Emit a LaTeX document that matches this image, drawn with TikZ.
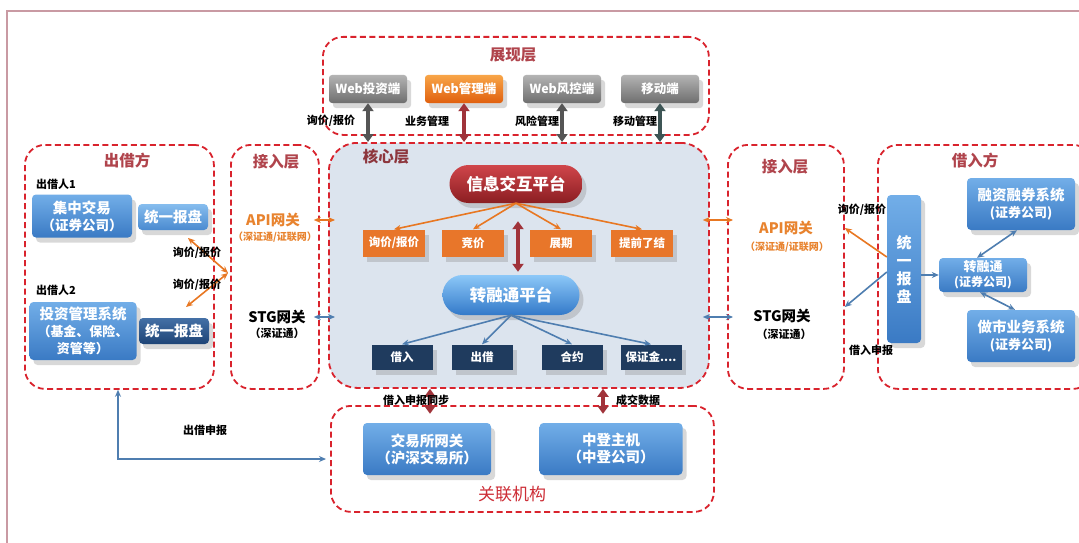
\documentclass[tikz,border=0pt]{standalone}
\usepackage{fontspec}
\setmainfont{Noto Sans CJK SC}
\usetikzlibrary{arrows.meta,shadows,calc}
\definecolor{dred}{HTML}{D9232D}
\definecolor{ttlc}{HTML}{B0444C}
\definecolor{corefill}{HTML}{DCE4EE}
\definecolor{obox}{HTML}{E8762A}
\definecolor{navy}{HTML}{1F3B5E}
\definecolor{btop}{HTML}{72AEE8}
\definecolor{bbot}{HTML}{3A7AC4}
\definecolor{ltop}{HTML}{86BDEE}
\definecolor{lbot}{HTML}{4A8AD0}
\definecolor{ntop}{HTML}{4470A6}
\definecolor{nbot}{HTML}{1E4476}
\definecolor{rtop}{HTML}{D0454A}
\definecolor{rbot}{HTML}{8B1E22}
\definecolor{ptop}{HTML}{8CC8F8}
\definecolor{pbot}{HTML}{3379C9}
\definecolor{gtop}{HTML}{B4B4B4}
\definecolor{gbot}{HTML}{6E6E6E}
\definecolor{otop}{HTML}{F8A548}
\definecolor{obot}{HTML}{E0600E}
\definecolor{oarrc}{HTML}{E87722}
\definecolor{barrc}{HTML}{4F7EB0}
\definecolor{rarrc}{HTML}{A0333A}
\definecolor{garrc}{HTML}{555555}
\definecolor{tarrc}{HTML}{3D5555}
\definecolor{framec}{HTML}{C99AA3}
\definecolor{apic}{HTML}{E8832E}
\begin{document}
\begin{tikzpicture}[x=1pt,y=-1pt,
  layer/.style={draw=dred, line width=1.8pt, dash pattern=on 6pt off 3.5pt, rounded corners=20pt, anchor=north west, inner sep=0pt},
  ttl/.style={text=ttlc, font=\bfseries\fontsize{15.5}{16}\selectfont},
  txtbox/.style={inner sep=0pt, align=center, text=white, font=\bfseries\fontsize{14.5}{17}\selectfont},
  shad/.style={drop shadow={opacity=0.3, shadow xshift=4pt, shadow yshift=-5pt}},
  graybtn/.style={txtbox, shad, rounded corners=3pt, top color=gtop, bottom color=gbot, minimum width=78, minimum height=28, font=\bfseries\fontsize{12.5}{14}\selectfont},
  orgbtn/.style={graybtn, top color=otop, bottom color=obot},
  bluebox/.style={txtbox, shad, rounded corners=4pt, top color=btop, bottom color=bbot},
  lightbox/.style={bluebox, top color=ltop, bottom color=lbot},
  darkbox/.style={bluebox, top color=ntop, bottom color=nbot},
  obx/.style={txtbox, shad, fill=obox, minimum width=62, minimum height=27, font=\bfseries\fontsize{11.5}{13}\selectfont},
  nbx/.style={txtbox, shad, fill=navy, minimum width=61, minimum height=25, font=\bfseries\fontsize{11.5}{13}\selectfont},
  redpill/.style={txtbox, shad, rounded corners=19pt, top color=rtop, bottom color=rbot, minimum width=133, minimum height=38, font=\bfseries\fontsize{16.5}{18}\selectfont},
  bluepill/.style={txtbox, shad, rounded corners=20pt, top color=ptop, bottom color=pbot, minimum width=137, minimum height=40, font=\bfseries\fontsize{16.5}{18}\selectfont},
  lbl/.style={inner sep=0pt, font=\bfseries\fontsize{11}{12}\selectfont, text=black},
  apitxt/.style={inner sep=0pt, font=\bfseries\fontsize{14.5}{16}\selectfont, text=apic},
  apisub/.style={inner sep=0pt, font=\bfseries\fontsize{10}{12}\selectfont, text=apic},
  stgtxt/.style={inner sep=0pt, font=\bfseries\fontsize{14.5}{16}\selectfont, text=black},
  stgsub/.style={inner sep=0pt, font=\bfseries\fontsize{11}{12}\selectfont, text=black},
  oarr/.style={draw=oarrc, line width=1.6pt, >={Stealth[length=7pt,width=6pt]}},
  barr/.style={draw=barrc, line width=1.6pt, >={Stealth[length=7pt,width=6pt]}},
  rarr/.style={draw=rarrc, line width=3.5pt, >={Triangle[length=8pt,width=11pt]}},
  garr/.style={draw=garrc, line width=3.5pt, >={Triangle[length=8pt,width=11pt]}}
]
\useasboundingbox (0,0) rectangle (1079,543);
\fill[white] (0,0) rectangle (1079,543);
\draw[framec, line width=1.6pt] (7,543) -- (7,11) -- (1079,11);

% presentation layer
\node[layer, minimum width=386, minimum height=98] (pres) at (322,36) {};
\node[ttl] (presT) at (513,55) {展现层};
\node[graybtn] (w1) at (368,89) {Web投资端};
\node[orgbtn] (w2) at (464,89) {Web管理端};
\node[graybtn] (w3) at (562,89) {Web风控端};
\node[graybtn] (w4) at (660,89) {移动端};

% core layer
\node[layer, fill=corefill, rounded corners=28pt, minimum width=380, minimum height=245] (core) at (328,142) {};
\node[ttl, text=ttlc!80!black] (coreT) at (386,157) {核心层};

\draw[garr,<->] (w1.south) -- (w1.south |- core.north);
\draw[rarr,<->] (w2.south) -- (w2.south |- core.north);
\draw[garr,<->] (w3.south) -- (w3.south |- core.north);
\draw[garr,draw=tarrc,<->] (w4.south) -- (w4.south |- core.north);
\node[lbl] (lb1) at (331,121) {询价/报价};
\node[lbl] (lb2) at (427,121) {业务管理};
\node[lbl] (lb3) at (537,121) {风险管理};
\node[lbl] (lb4) at (635,121) {移动管理};

\node[redpill] (info) at (516,184) {信息交互平台};
\node[obx] (o1) at (394,243) {询价/报价};
\node[obx] (o2) at (473,243) {竞价};
\node[obx] (o3) at (561,243) {展期};
\node[obx] (o4) at (642,243) {提前了结};
\foreach \t in {o1,o2,o3,o4} \draw[oarr,->] (info.south) -- (\t.north);
\node[bluepill] (zrt) at (511,295) {转融通平台};
\draw[rarr,<->] ($(info.south)+(2,18)$) -- ($(zrt.north)+(7,-3)$);
\node[nbx] (n1) at (402,357) {借入};
\node[nbx] (n2) at (482,357) {出借};
\node[nbx] (n3) at (572,357) {合约};
\node[nbx] (n4) at (651,357) {保证金....};
\foreach \t in {n1,n2,n3,n4} \draw[barr,->] (zrt.south) -- (\t.north);

% left access layer
\node[layer, minimum width=88, minimum height=244] (lacc) at (230,144) {};
\node[ttl] (laccT) at (276,162) {接入层};
\node[apitxt] (lapi) at (273,220) {API网关};
\node[apisub] (lapis) at (275,237) {（深证通/证联网）};
\node[stgtxt] (lstg) at (277,317) {STG网关};
\node[stgsub] (lstgs) at (277,333) {（深证通）};
\draw[oarr,<->] ($(lacc.east |- lapi)+(-6,0)$) -- ($(core.west |- lapi)+(7,0)$);
\draw[barr,<->] ($(lacc.east |- lstg)+(-6,0)$) -- ($(core.west |- lstg)+(7,0)$);

% lender
\node[layer, minimum width=189, minimum height=244] (lend) at (24,144) {};
\node[ttl] (lendT) at (127,161) {出借方};
\node[lbl, anchor=west] (p1) at (36,184) {出借人1};
\node[bluebox, minimum width=100, minimum height=43] (jz) at (82,216) {集中交易\\{\fontsize{13.5}{16}\selectfont（证券公司）}};
\node[lightbox, minimum width=70, minimum height=26] (u1) at (173,217) {统一报盘};
\node[lbl, anchor=west] (p2) at (36,290) {出借人2};
\node[bluebox, minimum width=107, minimum height=58] (tz) at (83,331) {投资管理系统\\{\fontsize{13}{15}\selectfont（基金、保险、}\\{\fontsize{13}{15}\selectfont 资管等）}};
\node[darkbox, minimum width=70, minimum height=26] (u2) at (174,331) {统一报盘};
\coordinate (jn) at (228,273);
\coordinate (c1) at (188,238);
\coordinate (c2) at (186,307);
\draw[oarr,<->] (c1) -- (jn);
\draw[oarr,<->] (c2) -- (jn);
\node[lbl] (lq1) at (197,253) {询价/报价};
\node[lbl] (lq2) at (197,285) {询价/报价};

% related institutions
\node[layer, minimum width=383, minimum height=106] (rel) at (330,405) {};
\node[ttl, text=dred!70!ttlc, font=\fontsize{17}{18}\selectfont] (relT) at (512,494) {关联机构};
\node[bluebox, minimum width=128, minimum height=52] (jys) at (427,449) {交易所网关\\（沪深交易所）};
\node[bluebox, minimum width=143, minimum height=52] (zd) at (611,449) {中登主机\\（中登公司）};
\draw[rarr,<->] ($(jys.north |- core.south)+(3,0)$) -- ($(jys.north)+(3,-9)$);
\draw[rarr,<->] ($(zd.north |- core.south)+(-8,0)$) -- ($(zd.north)+(-8,-9)$);
\node[lbl] (ls1) at (416,400) {借入申报同步};
\node[lbl] (ls2) at (638,400) {成交数据};
\coordinate (cb) at (118,459);
\draw[barr,<->] (lend.south -| cb) -- (cb) -- ($(cb -| rel.west)+(-4,0)$);
\node[lbl] (ls3) at (205,430) {出借申报};

% right access layer
\node[layer, minimum width=116, minimum height=244] (racc) at (727,144) {};
\node[ttl] (raccT) at (785,167) {接入层};
\node[apitxt] (rapi) at (786,228) {API网关};
\node[apisub] (rapis) at (787,247) {（深证通/证联网）};
\node[stgtxt] (rstg) at (782,316) {STG网关};
\node[stgsub] (rstgs) at (784,334) {（深证通）};
\draw[oarr,<->] ($(core.east |- lapi)+(-7,0)$) -- ($(racc.west |- lapi)+(6,0)$);
\draw[barr,<->] ($(core.east |- lstg)+(-7,0)$) -- ($(racc.west |- lstg)+(6,0)$);

% borrower
\node[layer, minimum width=215, minimum height=244] (borr) at (877,144) {};
\node[ttl] (borrT) at (975,161) {借入方};
\node[lbl] (rq1) at (862,210) {询价/报价};
\node[lbl] (rq2) at (871,350) {借入申报};
\node[bluebox, minimum width=34, minimum height=148, font=\bfseries\fontsize{15}{18}\selectfont] (u3) at (904,269) {统\\一\\报\\盘};
\node[bluebox, minimum width=108, minimum height=52] (rz) at (1021,204) {融资融券系统\\{\fontsize{13}{15}\selectfont (证券公司)}};
\node[bluebox, minimum width=88, minimum height=34, font=\bfseries\fontsize{13}{15}\selectfont] (zrt2) at (983,275) {转融通\\{\fontsize{12}{13}\selectfont (证券公司)}};
\node[bluebox, minimum width=108, minimum height=52] (zs) at (1021,336) {做市业务系统\\{\fontsize{13}{15}\selectfont (证券公司)}};
\draw[barr,->] (u3.east |- zrt2) -- (zrt2.west);
\draw[barr,<->] ($(zrt2.north)+(-6,0)$) -- ($(rz.south)+(-4,0)$);
\draw[barr,<->] ($(zrt2.south)+(-3,0)$) -- ($(zs.north)+(-6,0)$);
\draw[oarr,->] ($(u3.west)+(0,-12)$) -- (racc.east |- rapi);
\draw[barr,->] ($(u3.west)+(0,3)$) -- ($(racc.east |- rstg)+(0,-9)$);
\end{tikzpicture}
\end{document}
